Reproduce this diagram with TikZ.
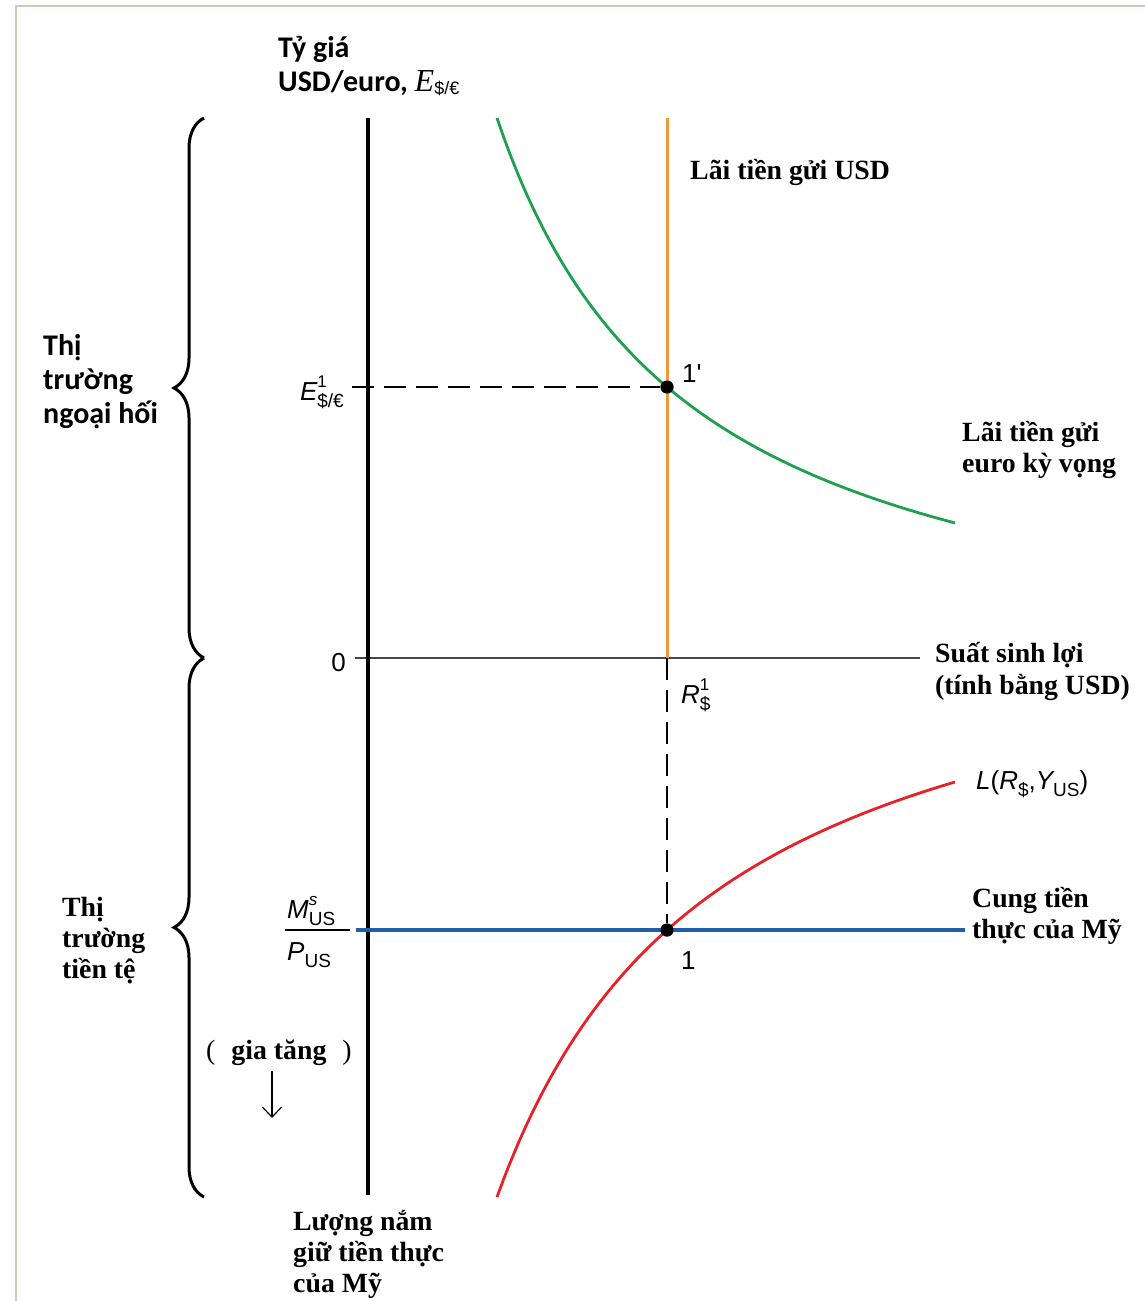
\documentclass[tikz,border=0pt]{standalone}
\usepackage{fontspec}
\setmainfont{Liberation Serif}
\newfontfamily\hel{Liberation Sans}
\newfontfamily\carl{Carlito}
\usetikzlibrary{decorations.pathreplacing,arrows.meta}
\newcommand\lab[3]{{#1}\rlap{\raisebox{0.5em}{\upshape\fontsize{17}{17}\selectfont #2}}\raisebox{-0.3em}{\upshape\fontsize{19}{19}\selectfont #3}}
\definecolor{framec}{RGB}{210,200,184}
\definecolor{grn}{RGB}{30,160,80}
\definecolor{org}{RGB}{242,150,60}
\definecolor{rd}{RGB}{232,32,42}
\definecolor{blu}{RGB}{30,95,168}
\tikzset{
  sb/.style={font=\bfseries\fontsize{27.8}{31}\selectfont, anchor=base west, inner sep=0},
  cb/.style={font=\carl\bfseries\fontsize{30}{34}\selectfont, anchor=base west, inner sep=0},
  ml/.style={font=\hel\fontsize{26}{26}\selectfont, inner sep=0},
  dot/.style={circle, fill=black, inner sep=0, minimum size=13pt},
  dsh/.style={line width=1.5pt, dash pattern=on 22pt off 10pt},
  brc/.style={line width=3pt, decorate, decoration={brace, amplitude=30pt}},
}
\begin{document}
\begin{tikzpicture}[x=1pt,y=-1pt]
\useasboundingbox (0,0) rectangle (1145,1301);
% frame
\draw[framec, line width=2.4pt] (16,1301) -- (16,6) -- (1145,6);
% coordinates
\coordinate (vtop) at (368,118);
\coordinate (vbot) at (368,1195);
\coordinate (hl) at (355,658);
\coordinate (hr) at (920,658);
\coordinate (otop) at (667,118);
\coordinate (obot) at (667,658);
\coordinate (etick) at (352,387);
\coordinate (bl) at (356,930);
\coordinate (br) at (965,930);
\node[dot] (p1p) at (667,387) {};
\node[dot] (p1) at (667,930) {};
% axes
\draw[line width=2pt, black!72] (hl) -- (hr);
\draw[line width=3.2pt] (vtop) -- (vbot);
% orange line
\draw[org, line width=3pt] (otop) -- (obot);
% green curve
\draw[grn, line width=2.8pt] plot[domain=497:955, samples=80, smooth] ({\x},{695.2-1124.46/((\x-302.2)/100)});
% red curve
\draw[rd, line width=2.8pt] plot[domain=497:955, samples=80, smooth] ({\x},{580.1+1374.52/((\x-274.2)/100)});
% blue line
\draw[blu, line width=3.2pt] (bl) -- (br);
% dashed
\draw[dsh] (etick) -- (p1p);
\draw[dsh] (obot) -- (p1);
\node[dot] at (p1p) {};
\node[dot] at (p1) {};
% braces
\draw[brc] (204,658) -- (204,118);
\draw[brc] (204,1197) -- (204,658);
% title
\node[cb] (t1) at (278,57) {Tỷ giá};
\node[cb] (t2) at (278,91) {USD/euro, {\mdseries\rmfamily\itshape\fontsize{32}{32}\selectfont E}\raisebox{-0.1em}{\hel\mdseries\fontsize{18}{18}\selectfont \$/€}};
% labels
\node[sb] (usd) at (690,179) {Lãi tiền gửi USD};
\node[ml, anchor=base west] (l1p) at (682,382) {1'};
\node[ml, anchor=base east] (le1) at (344,400) {\lab{\itshape E}{1}{\$/€}};
\node[sb] (eu1) at (962,441) {Lãi tiền gửi};
\node[sb] (eu2) at (962,472) {euro kỳ vọng};
\node[ml, anchor=base east] (zero) at (346,671) {0};
\node[sb] (ss1) at (935,662) {Suất sinh lợi};
\node[sb] (ss2) at (935,694) {(tính bằng USD)};
\node[ml, anchor=base west] (lr) at (681,703) {\lab{\itshape R}{1}{\$}};
\node[ml, anchor=base west] (lL) at (976,789) {{\itshape L}(\lab{\itshape R}{}{\$},{\itshape Y}\raisebox{-0.3em}{\fontsize{19}{19}\selectfont US})};
\node[sb] (cu1) at (972,907) {Cung tiền};
\node[sb] (cu2) at (972,938) {thực của Mỹ};
\node[ml, anchor=base west] (lms) at (287,918) {\lab{\itshape M}{\itshape s}{US}};
\draw[line width=1.5pt] (285,930) -- (350,930);
\node[ml, anchor=base west] (lpu) at (287,960) {\lab{\itshape P}{}{US}};
\node[ml, anchor=base west] (l1) at (681,969) {1};
% left labels
\node[cb] (fx1) at (43,355) {Thị};
\node[cb] (fx2) at (43,389) {trường};
\node[cb] (fx3) at (43,423) {ngoại hối};
\node[sb] (mm1) at (62,916) {Thị};
\node[sb] (mm2) at (62,947) {trường};
\node[sb] (mm3) at (62,978) {tiền tệ};
\node[sb] (gt) at (206,1059) {{\mdseries (}\hspace{16pt}gia tăng\hspace{16pt}{\mdseries )}};
\coordinate (aa) at (272,1071);
\coordinate (ab) at (272,1118);
\draw[line width=1.2pt, -{Straight Barb[length=10pt,width=19pt]}] (aa) -- (ab);
\node[sb] (lg1) at (293,1230) {Lượng nắm};
\node[sb] (lg2) at (293,1261) {giữ tiền thực};
\node[sb] (lg3) at (293,1292) {của Mỹ};
\end{tikzpicture}
\end{document}
